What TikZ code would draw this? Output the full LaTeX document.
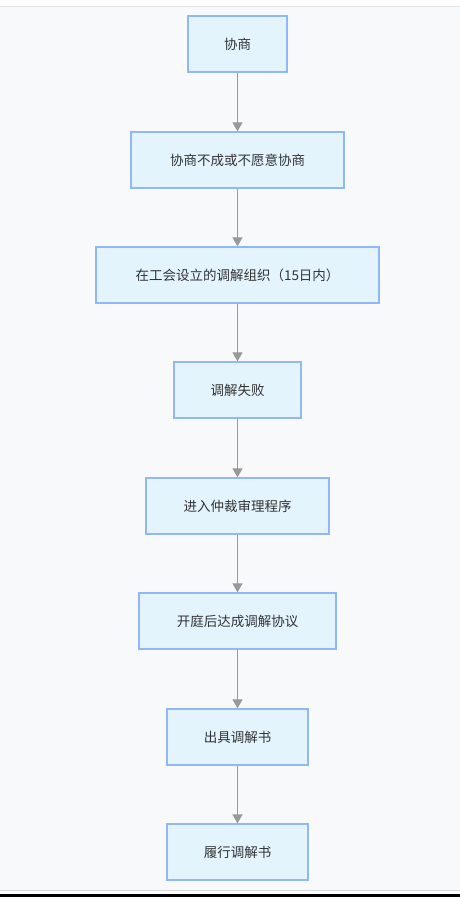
\documentclass[tikz,border=0pt]{standalone}
\usepackage{fontspec}
\setmainfont{Noto Sans CJK SC}
\usetikzlibrary{positioning, arrows.meta, calc}
\definecolor{boxfill}{HTML}{E4F4FD}
\definecolor{boxline}{HTML}{90B8F8}
\definecolor{arrowgray}{HTML}{999999}
\definecolor{pagebg}{HTML}{F8F9FB}
\definecolor{textgray}{HTML}{333333}

\begin{document}
\begin{tikzpicture}[
    x=1pt, y=-1pt,
    stepbox/.style={draw=boxline, line width=1.3pt, fill=boxfill, rectangle, minimum height=56pt, inner xsep=4pt, text=textgray, font=\fontsize{13.5pt}{16pt}\selectfont},
    flow/.style={draw=arrowgray, line width=1.2pt, -{Triangle[width=10pt,length=9pt]}}
]
    % Page background
    \useasboundingbox (0,0) rectangle (460,897);
    \fill[white] (0,0) rectangle (460,897);
    \fill[pagebg] (0,6) rectangle (460,889.5);
    \draw[gray!20, line width=1pt] (0,6) -- (460,6);
    \draw[gray!30, line width=1pt] (0,890) -- (460,890);
    \fill[black] (0,894.3) rectangle (460,897);

    % Steps (top to bottom)
    \node[stepbox, minimum width=99pt]  (s1) at (237.5,44)  {协商};
    \node[stepbox, minimum width=213pt] (s2) at (237.5,160) {协商不成或不愿意协商};
    \node[stepbox, minimum width=283pt] (s3) at (237.5,275) {在工会设立的调解组织（15日内）};
    \node[stepbox, minimum width=127pt] (s4) at (237.5,390) {调解失败};
    \node[stepbox, minimum width=183pt] (s5) at (237.5,506) {进入仲裁审理程序};
    \node[stepbox, minimum width=197pt] (s6) at (237.5,621) {开庭后达成调解协议};
    \node[stepbox, minimum width=141pt] (s7) at (237.5,737) {出具调解书};
    \node[stepbox, minimum width=141pt] (s8) at (237.5,852) {履行调解书};

    % Connectors
    \foreach \i/\j in {1/2, 2/3, 3/4, 4/5, 5/6, 6/7, 7/8} {
        \draw[flow] (s\i.south) -- (s\j.north);
    }
\end{tikzpicture}
\end{document}
